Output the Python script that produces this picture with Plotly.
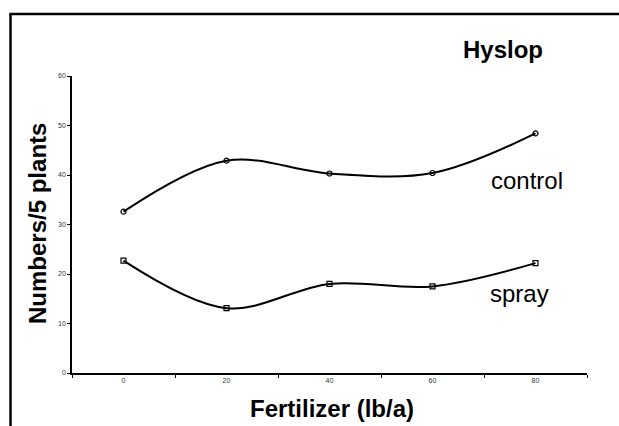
import plotly.graph_objects as go

fertilizer = ["0", "20", "40", "60", "80"]
control = [32.6, 42.9, 40.3, 40.4, 48.4]
spray = [22.7, 13.1, 18.0, 17.5, 22.2]
y_ticks = [0, 10, 20, 30, 40, 50, 60]

W, H = 619, 426
L, R, T, B = 72, 32, 76, 53
pw, ph = W - L - R, H - T - B

def px(x):
    return (x - L) / pw

def py(y):
    return (H - B - y) / ph

font_family = "Liberation Sans, Arial, sans-serif"

fig = go.Figure()
fig.add_trace(go.Scatter(
    x=fertilizer, y=control, mode="lines+markers", name="control",
    line=dict(color="black", width=2, shape="spline", smoothing=1),
    marker=dict(symbol="circle-open", size=5, color="black", line=dict(width=1.2)),
))
fig.add_trace(go.Scatter(
    x=fertilizer, y=spray, mode="lines+markers", name="spray",
    line=dict(color="black", width=2, shape="spline", smoothing=1),
    marker=dict(symbol="square-open", size=5, color="black", line=dict(width=1.2)),
))

fig.update_layout(
    width=W, height=H,
    margin=dict(l=L, r=R, t=T, b=B, pad=0),
    paper_bgcolor="white", plot_bgcolor="white",
    showlegend=False,
    font=dict(family=font_family, color="black"),
    xaxis=dict(
        type="category", range=[-0.5, 4.5], tickson="boundaries",
        ticks="outside", ticklen=3, tickwidth=1, tickcolor="black",
        showline=True, linecolor="black", linewidth=1.5,
        showgrid=False, zeroline=False,
        tickfont=dict(size=7, color="#333333"),
    ),
    yaxis=dict(
        range=[0, 60], tickvals=y_ticks,
        ticks="outside", ticklen=3, tickwidth=1, tickcolor="black",
        showline=True, linecolor="black", linewidth=1.5,
        showgrid=False, zeroline=False,
        tickfont=dict(size=7, color="#333333"),
    ),
    shapes=[
        dict(type="line", xref="paper", yref="paper",
             x0=px(10.5), x1=px(10.5), y0=py(14), y1=py(440),
             line=dict(color="black", width=2.5)),
        dict(type="line", xref="paper", yref="paper",
             x0=px(9.3), x1=px(640), y0=py(14), y1=py(14),
             line=dict(color="black", width=2.5)),
    ],
    annotations=[
        dict(text="<b>Hyslop</b>", xref="paper", yref="paper",
             x=px(503), y=py(50), xanchor="center", yanchor="middle",
             showarrow=False, font=dict(size=24, color="black")),
        dict(text="control", xref="paper", yref="paper",
             x=px(527), y=py(180), xanchor="center", yanchor="middle",
             showarrow=False, font=dict(size=24, color="black")),
        dict(text="spray", xref="paper", yref="paper",
             x=px(519), y=py(293), xanchor="center", yanchor="middle",
             showarrow=False, font=dict(size=24, color="black")),
        dict(text="<b>Fertilizer (lb/a)</b>", xref="paper", yref="paper",
             x=px(332), y=py(409), xanchor="center", yanchor="middle",
             showarrow=False, font=dict(size=24, color="black")),
        dict(text="<b>Numbers/5 plants</b>", xref="paper", yref="paper",
             x=px(37), y=py(224), xanchor="center", yanchor="middle",
             textangle=-90,
             showarrow=False, font=dict(size=24, color="black")),
    ],
)

fig.write_html(
    "out.html",
    config={"displayModeBar": False},
    post_script="document.body.style.margin='0';document.body.style.overflow='hidden';",
)
